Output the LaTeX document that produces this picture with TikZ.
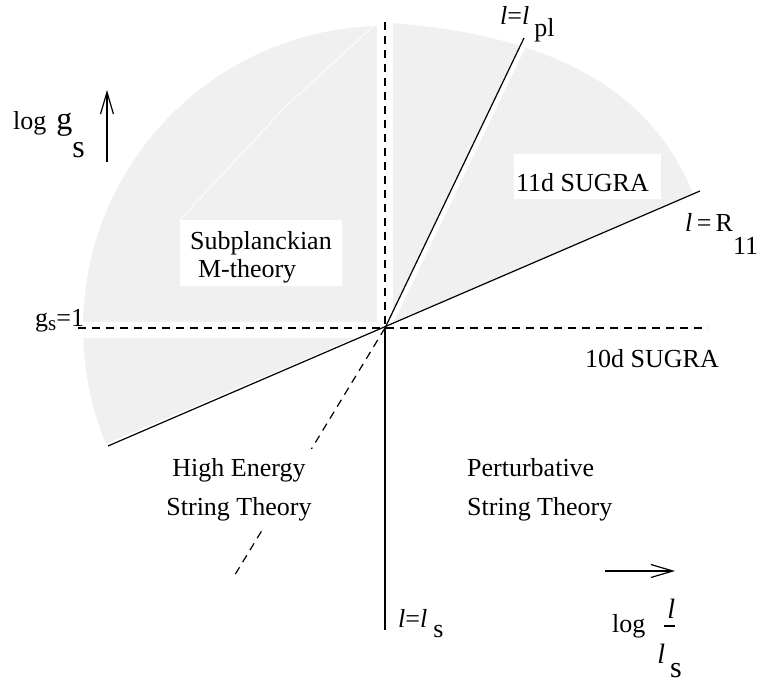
\documentclass[tikz,border=0pt]{standalone}
\usepackage{fontspec}
\setmainfont{Liberation Serif}
\usepackage{tikz}
\usetikzlibrary{arrows.meta}
\definecolor{grisz}{HTML}{F0F0F0}

\begin{document}
\begin{tikzpicture}[
    x=1pt, y=1pt,
    zona/.style={fill=grisz},
    linea/.style={line width=1.2pt},
    rayas/.style={line width=1.2pt, dash pattern=on 8pt off 6pt},
    flecha/.style={-{Straight Barb[length=22pt, width=13pt]}, line width=1.2pt},
    texto/.style={font=\fontsize{26}{29}\selectfont, inner sep=0pt},
    caja/.style={texto, fill=white}
]
\useasboundingbox (-385,-356) rectangle (377,328);

\coordinate (O) at (0,0);

% zonas grises
\begin{scope}
  \clip (O) circle [radius=302];
  \fill[zona] (-8,6) rectangle (-310,310);
  \fill[zona] (-30,-10) -- (-310,-10) -- (-310,-129) -- cycle;
\end{scope}
\begin{scope}
  \clip (8,0) -- (8,305) .. controls (190,290) and (270,225) .. (308,135) -- cycle;
  \fill[zona] (O) -- (0,400) -- (191.8,400) -- cycle;
  \fill[zona] (8.2,4.6) -- (197.8,400) -- (400,400) -- (400,175) -- cycle;
\end{scope}
\draw[white, line width=0.8pt] (-205,108) -- (-100,221) -- (-8,305);

% rectas
\coordinate (arriba) at (0,306);
\coordinate (izq) at (-307,0);
\coordinate (der) at (323,0);
\coordinate (abajo) at (0,-302);
\coordinate (rA) at (-277,-118);
\coordinate (rB) at (315,137);
\coordinate (lpl) at (139,290);
\coordinate (hE) at (-152,-250);

\draw[rayas] (arriba) -- (O);
\draw[rayas] (izq) -- (der);
\draw[linea] (O) -- (abajo);
\draw[linea] (rA) -- (rB);
\draw[linea] (O) -- (lpl);
\draw[rayas] (O) -- (hE);

% regiones
\node[caja, align=left, inner xsep=8pt, minimum width=162pt] (subpl) at (-124,75)
  {\rule{0pt}{30pt}Subplanckian\\[-1pt]\hspace{0.3em}M-theory\rule[-8pt]{0pt}{8pt}};
\node[caja, inner xsep=2pt] (sugra11) at (202.5,151.5)
  {\rule{0pt}{38pt}11d SUGRA\hspace{10pt}\rule[-7pt]{0pt}{7pt}};
\node[texto, anchor=base west] (sugra10) at (200,-40) {10d SUGRA};
\node[caja, align=center, inner sep=10pt] (altaE) at (-146,-162)
  {High Energy\\[10pt]String Theory};
\node[texto, align=left, anchor=west] (pert) at (82,-162)
  {Perturbative\\[10pt]String Theory};

% rotulos de las rectas
\node[texto, anchor=base west] (gs1) at (-350,1)
  {g\raisebox{-4pt}{\fontsize{21}{21}\selectfont s}=1};
\node[texto, anchor=base west] (eqpl) at (115,303)
  {\textit{l}=\textit{l}\raisebox{-12pt}{\hspace{5pt}pl}};
\node[texto, anchor=base west] (eqR) at (300,96)
  {\textit{l}\,=\,R\raisebox{-23pt}{11}};
\node[texto, anchor=base west] (eqls) at (13,-299)
  {\textit{l}=\textit{l}\raisebox{-10pt}{\hspace{6pt}s}};

% ejes
\node[texto, anchor=base west] (ejey) at (-372,198)
  {log\hspace{10pt}{\fontsize{32}{32}\selectfont g\raisebox{-28pt}{s}}};
\coordinate (fy0) at (-278,166);
\coordinate (fy1) at (-278,238);
\draw[flecha] (fy0) -- (fy1);

\node[texto, anchor=base west] (ejex) at (227,-304)
  {log\hspace{12pt}%
   \rlap{\hspace{7pt}\raisebox{5.4pt}{\rule{11pt}{1.2pt}}}%
   \rlap{\hspace{10pt}\raisebox{14pt}{\fontsize{28}{28}\selectfont\textit{l}}}%
   \raisebox{-31pt}{\fontsize{28}{28}\selectfont\textit{l}\hspace{5pt}\raisebox{-14pt}{\fontsize{30}{30}\selectfont s}}};
\coordinate (fx0) at (220,-243);
\coordinate (fx1) at (290,-243);
\draw[flecha] (fx0) -- (fx1);

\end{tikzpicture}
\end{document}
